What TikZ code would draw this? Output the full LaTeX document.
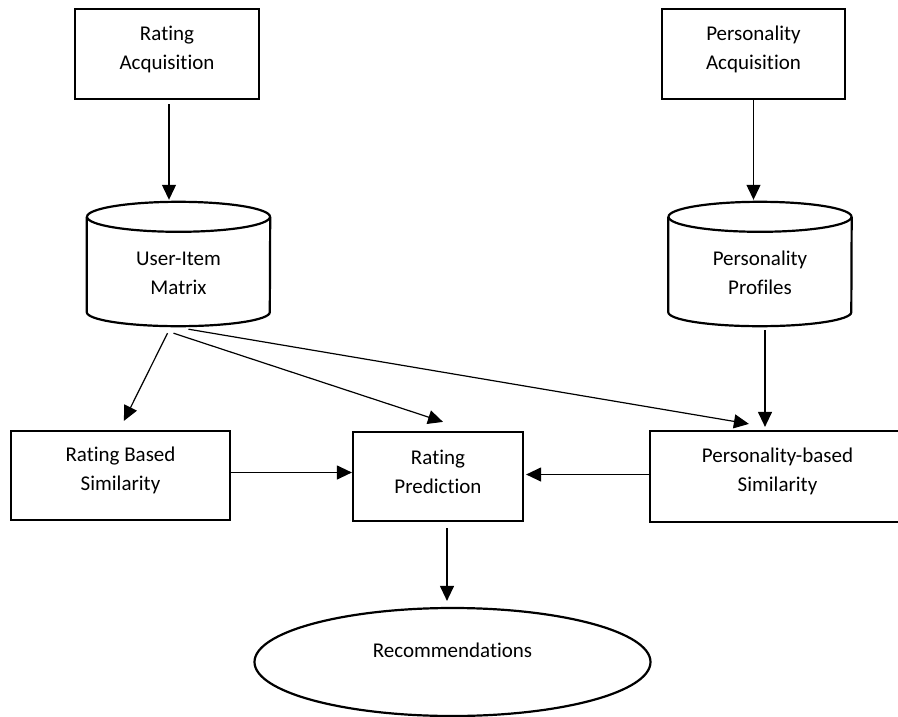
\documentclass[tikz,border=0pt]{standalone}
\usepackage{fontspec}
\setmainfont{Carlito}[Ligatures=NoCommon]
\usetikzlibrary{arrows.meta,shapes.geometric,calc}

\tikzset{
  box/.style={draw, line width=2.2pt, rectangle, inner sep=0pt},
  store/.style={inner sep=0pt, rectangle},
  storeline/.style={line width=2.2pt},
  oval/.style={draw, line width=2.2pt, ellipse, inner sep=0pt},
  lbl/.style={align=center, font=\fontsize{21}{29}\selectfont, inner sep=0pt},
  arr/.style={line width=1.2pt, -{Triangle[length=15pt,width=14pt]}},
}

% data store drawn as a cylinder around the node's box
\newcommand{\drawstore}[1]{%
  \draw[storeline] ([yshift=-15pt]#1.north) ellipse [x radius=91.5pt, y radius=15pt];
  \draw[storeline] ([yshift=-15pt]#1.north west) -- ([yshift=14pt]#1.south west)
    arc[start angle=180, end angle=360, x radius=91.5pt, y radius=14pt]
    -- ([yshift=-15pt]#1.north east);
}

\begin{document}
\begin{tikzpicture}[x=1pt, y=-1pt]
\useasboundingbox (0,0) rectangle (898,717);

% acquisition steps
\node[box, minimum width=184pt, minimum height=90pt,
      label={[lbl, yshift=5pt]center:Rating\\Acquisition}] (ra) at (167,54) {};
\node[box, minimum width=183pt, minimum height=90pt,
      label={[lbl, yshift=5pt]center:Personality\\Acquisition}] (pa) at (753.5,54) {};

% data stores
\node[store, minimum width=183pt, minimum height=124pt,
      label={[lbl, yshift=-9pt]center:User-Item\\Matrix}] (um) at (178.5,264) {};
\node[store, minimum width=183pt, minimum height=124pt,
      label={[lbl, yshift=-9pt]center:Personality\\Profiles}] (pp) at (760,264) {};
\drawstore{um}
\drawstore{pp}

% similarity and prediction
\node[box, minimum width=219pt, minimum height=89pt,
      label={[lbl, yshift=5pt]center:Rating Based\\Similarity}] (rbs) at (120.5,475.5) {};
\node[box, minimum width=170pt, minimum height=89pt,
      label={[lbl, yshift=5pt]center:Rating\\Prediction}] (rp) at (438,476.5) {};
\node[box, minimum width=255pt, minimum height=91pt,
      label={[lbl, yshift=5pt]center:Personality-based\\Similarity}] (ps) at (777.5,476.5) {};

% output
\node[oval, minimum width=396pt, minimum height=108pt,
      label={[lbl, yshift=12pt]center:Recommendations}] (rec) at (452.5,662) {};

% connectors
\draw[arr, shorten <=4pt, shorten >=2pt] ([xshift=2pt]ra.south) -- ([xshift=2pt]ra.south |- um.north);
\draw[arr, shorten >=2pt] (pa.south) -- (pa.south |- pp.north);
\draw[arr, shorten <=4pt, shorten >=3pt] ([xshift=5pt]pp.south) -- ([xshift=5pt]pp.south |- ps.north);

\draw[arr] ([xshift=-11pt,yshift=-7pt]um.south) -- ([xshift=114pt,yshift=9pt]rbs.north west);
\draw[arr] ([xshift=-5pt,yshift=-7pt]um.south) -- ([xshift=5pt,yshift=9pt]rp.north);
\draw[arr] ([xshift=10pt,yshift=-3pt]um.south) -- ([xshift=100pt,yshift=6pt]ps.north west);

\draw[arr] ([yshift=3pt]rbs.east) -- ([yshift=3pt]rbs.east -| rp.west);
\draw[arr, shorten >=2pt] ([yshift=2pt]ps.west) -- ([yshift=2pt]ps.west -| rp.east);
\draw[arr, shorten <=6pt, shorten >=6pt] ([xshift=9pt]rp.south) -- ([xshift=9pt]rp.south |- rec.north);
\end{tikzpicture}
\end{document}
